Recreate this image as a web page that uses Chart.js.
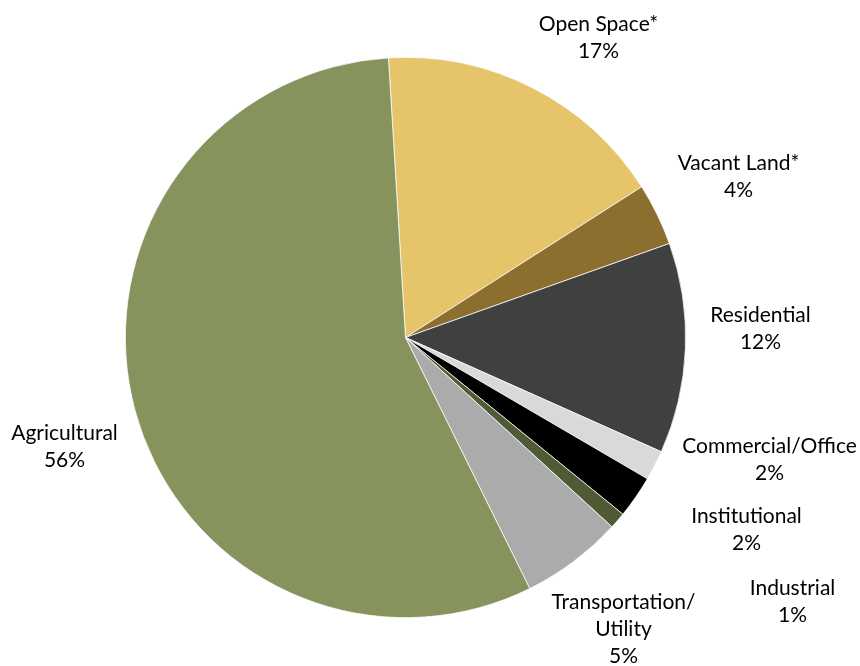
<!DOCTYPE html>
<html>
<head>
<meta charset="utf-8">
<script src="https://cdn.jsdelivr.net/npm/chart.js@4"></script>
<style>
  html, body { margin: 0; padding: 0; background: #ffffff; }
  #wrap { width: 860px; height: 666px; position: relative; }
</style>
</head>
<body>
<div id="wrap"><canvas id="c"></canvas></div>
<script>
// Data
const categories = ["Open Space*", "Vacant Land*", "Residential", "Commercial/Office", "Institutional", "Industrial", "Transportation/Utility", "Agricultural"];
const shareValues = [16.93, 3.59, 12.13, 1.73, 2.45, 0.95, 5.87, 56.34];
const percentLabels = ["17%", "4%", "12%", "2%", "2%", "1%", "5%", "56%"];
const labelLines = [["Open Space*"], ["Vacant Land*"], ["Residential"], ["Commercial/Office"], ["Institutional"], ["Industrial"], ["Transportation/", "Utility"], ["Agricultural"]];

// Styles
const sliceColors = ["#E6C46A", "#8C6E2F", "#404040", "#D9D9D9", "#000000", "#4F5B35", "#ABABAB", "#87935C"];
// label anchor offsets from pie centre (x centre of text, first baseline)
const labelOffsets = [[193, -307], [333, -168], [355, -16], [364, 115], [341, 185], [387, 257], [218, 271], [-341, 102]];
const FONT = "21px Lato, 'Open Sans', sans-serif";
const LINE_H = 27;

const labelPlugin = {
  id: 'outsideLabels',
  afterDraw(chart) {
    const meta = chart.getDatasetMeta(0);
    const ctx = chart.ctx;
    ctx.save();
    ctx.font = FONT;
    ctx.fillStyle = '#000000';
    ctx.textAlign = 'center';
    ctx.textBaseline = 'alphabetic';
    meta.data.forEach((arc, i) => {
      const cx = arc.x, cy = arc.y;
      const [dx, dy] = labelOffsets[i];
      const lines = labelLines[i].concat([percentLabels[i]]);
      lines.forEach((t, k) => {
        ctx.fillText(t, cx + dx, cy + dy + k * LINE_H);
      });
    });
    ctx.restore();
  }
};

new Chart(document.getElementById('c'), {
  type: 'pie',
  data: {
    labels: categories,
    datasets: [{
      data: shareValues,
      backgroundColor: sliceColors,
      borderColor: '#ffffff',
      borderWidth: 0.75
    }]
  },
  options: {
    responsive: true,
    maintainAspectRatio: false,
    animation: false,
    rotation: -3.49,
    layout: { padding: { left: 125, right: 174, top: 57, bottom: 48 } },
    plugins: {
      legend: { display: false },
      tooltip: { enabled: false }
    }
  },
  plugins: [labelPlugin]
});
</script>
</body>
</html>
